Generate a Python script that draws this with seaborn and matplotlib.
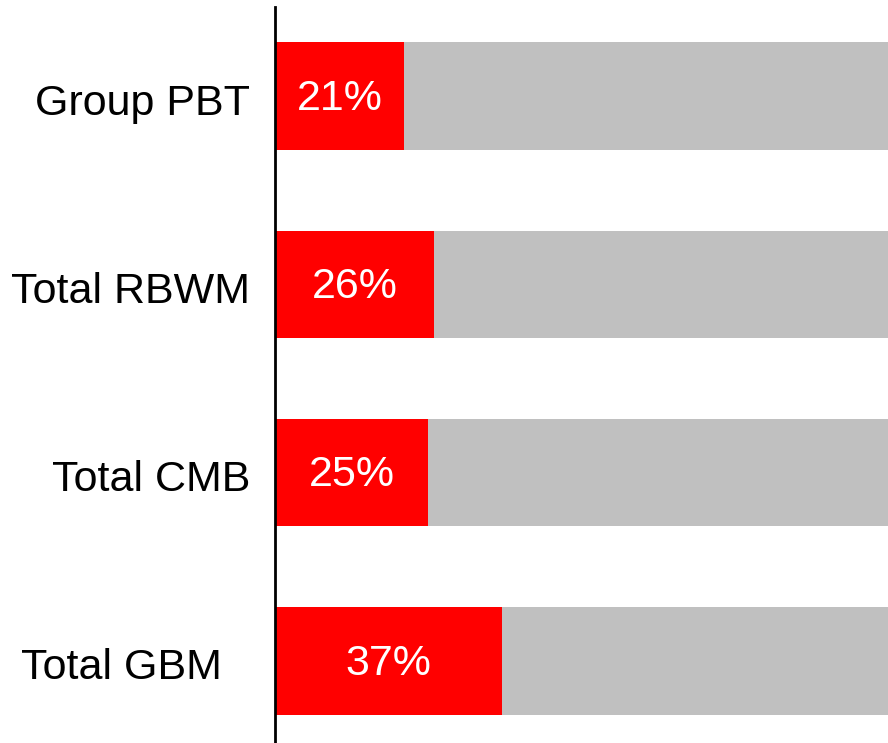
import matplotlib
matplotlib.use("Agg")
import matplotlib.pyplot as plt
import matplotlib.transforms as mtransforms
import seaborn as sns
import pandas as pd

categories = ["Group PBT", "Total RBWM", "Total CMB", "Total GBM"]
shares = [21, 26, 25, 37]
totals = [100, 100, 100, 100]

sns.set_theme(style="white")
plt.rcParams["font.family"] = ["Liberation Sans", "DejaVu Sans"]

df = pd.DataFrame({"segment": categories, "share": shares, "total": totals})

fig = plt.figure(figsize=(8.88, 7.43), dpi=100)
ax = fig.add_axes([275 / 888, 0.0, 1 - 275 / 888, 1 - 7 / 743])

sns.barplot(data=df, x="total", y="segment", orient="h", color="#C0C0C0",
            width=0.57, saturation=1, linewidth=0, ax=ax)
sns.barplot(data=df, x="share", y="segment", orient="h", color="#FF0000",
            width=0.57, saturation=1, linewidth=0, ax=ax)

for i, v in enumerate(df["share"]):
    ax.text(v / 2, i + 0.015, f"{v}%", color="white", fontsize=31,
            ha="center", va="center")

ax.set_xlim(0, 100)
ax.set_ylim(3.436, -0.473)
ax.set_xlabel("")
ax.set_ylabel("")
ax.set_xticks([])
ax.tick_params(axis="y", length=0, pad=18, labelsize=31, labelcolor="black")

for side in ["top", "right", "bottom"]:
    ax.spines[side].set_visible(False)
ax.spines["left"].set_color("black")
ax.spines["left"].set_linewidth(2)
ax.spines["left"].set_zorder(5)

# shift category labels slightly down; last one sits further left
for k, lbl in enumerate(ax.get_yticklabels()):
    dx = -28 / 100 if k == len(categories) - 1 else 0
    lbl.set_transform(lbl.get_transform() +
                      mtransforms.ScaledTranslation(dx, -3 / 100, fig.dpi_scale_trans))

fig.savefig("out.png", dpi=100)
